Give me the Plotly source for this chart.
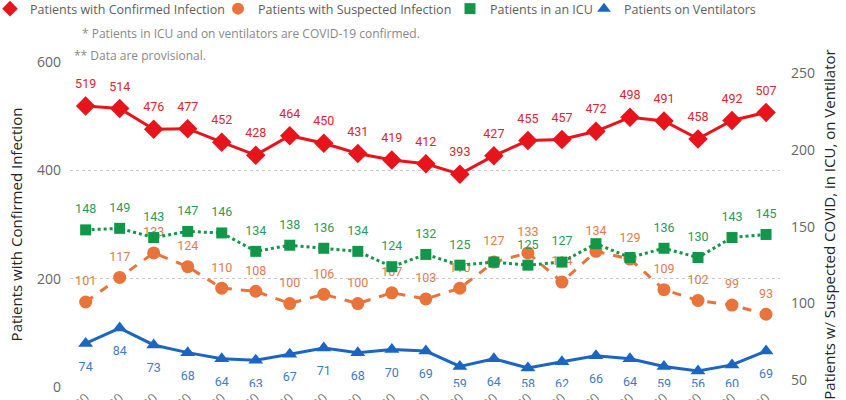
import plotly.graph_objects as go

dates = ["7/20/2020", "7/21/2020", "7/22/2020", "7/23/2020", "7/24/2020", "7/25/2020", "7/26/2020",
         "7/27/2020", "7/28/2020", "7/29/2020", "7/30/2020", "7/31/2020", "8/1/2020", "8/2/2020",
         "8/3/2020", "8/4/2020", "8/5/2020", "8/6/2020", "8/7/2020", "8/8/2020", "8/9/2020"]
confirmed = [519, 514, 476, 477, 452, 428, 464, 450, 431, 419, 412, 393, 427, 455, 457, 472, 498, 491, 458, 492, 507]
suspected = [101, 117, 133, 124, 110, 108, 100, 106, 100, 107, 103, 110, 127, 133, 114, 134, 129, 109, 102, 99, 93]
icu = [148, 149, 143, 147, 146, 134, 138, 136, 134, 124, 132, 125, 127, 125, 127, 139, 130, 136, 130, 143, 145]
ventilators = [74, 84, 73, 68, 64, 63, 67, 71, 68, 70, 69, 59, 64, 58, 62, 66, 64, 59, 56, 60, 69]
icu_hidden_labels = [12, 15, 16]

names = ["Patients with Confirmed Infection", "Patients with Suspected Infection",
         "Patients in an ICU", "Patients on Ventilators"]
left_title = "Patients with Confirmed Infection"
right_title = "Patients w/ Suspected COVID, in ICU, on Ventilator"
note1 = "* Patients in ICU and on ventilators are COVID-19 confirmed."
note2 = "** Data are provisional."

RED, RED_T = "#E8141C", "#D9262C"
ORANGE, ORANGE_T = "#E8743B", "#E27B4C"
GREEN, GREEN_T = "#12974A", "#2A9A5A"
BLUE, BLUE_T = "#1B66C2", "#3B7CC4"

FONT = "Open Sans, sans-serif"
LABEL_FONT = "Roboto, sans-serif"
LABEL_FS = 12.5

L, R, T, B = 70, 66, 62, 13
W, H = 846, 400
PW = W - L - R
PH = H - T - B
Y2_RANGE = [45.6, 257.4]

fig = go.Figure()

# legend-only entries (marker symbols only, like the original)
legend_specs = [
    (names[0], RED, "diamond", 12, 183),
    (names[1], ORANGE, "circle", 12, 187),
    (names[2], GREEN, "square", 11, 89),
    (names[3], BLUE, "triangle-up", 12, 134),
]
for nm, col, sym, sz, lw in legend_specs:
    fig.add_trace(go.Scatter(x=[None], y=[None], mode="markers", name=nm,
                             marker=dict(color=col, symbol=sym, size=sz),
                             legendwidth=lw, showlegend=True, hoverinfo="skip"))


def below_label_sizes(values, base_size, limit_px=384):
    # keep labels under the points inside the plot area (as the original does)
    sizes = []
    for v in values:
        py = T + (Y2_RANGE[1] - v) / (Y2_RANGE[1] - Y2_RANGE[0]) * PH
        max_off = limit_px - py
        max_size = 1.6 * (max_off - 1 - 0.39 * LABEL_FS)
        sizes.append(max(2, min(base_size, max_size)))
    return sizes


def add_series(values, yaxis, color, tcolor, dash, symbol, msize, pos, label_size, hidden=()):
    fig.add_trace(go.Scatter(
        x=dates, y=values, yaxis=yaxis, mode="lines+markers", showlegend=False,
        line=dict(color=color, width=3, dash=dash),
        marker=dict(color=color, symbol=symbol, size=msize),
        hoverinfo="skip"))
    labels = ["" if i in hidden else str(v) for i, v in enumerate(values)]
    fig.add_trace(go.Scatter(
        x=dates, y=values, yaxis=yaxis, mode="markers+text", showlegend=False,
        marker=dict(size=label_size, opacity=0),
        text=labels, textposition=pos,
        textfont=dict(family=LABEL_FONT, size=LABEL_FS, color=tcolor),
        hoverinfo="skip"))


add_series(confirmed, "y", RED, RED_T, "solid", "diamond", 15, "top center", 22)
add_series(suspected, "y2", ORANGE, ORANGE_T, "dash", "circle", 13, "top center", 20)
add_series(icu, "y2", GREEN, GREEN_T, "dot", "square", 11, "top center", 20, icu_hidden_labels)
add_series(ventilators, "y2", BLUE, BLUE_T, "solid", "triangle-up", 13, "bottom center",
           below_label_sizes(ventilators, 27))

fig.update_layout(
    width=W, height=H,
    margin=dict(l=L, r=R, t=T, b=B, autoexpand=False),
    paper_bgcolor="white", plot_bgcolor="white",
    font=dict(family=FONT, color="#666666"),
    showlegend=True,
    legend=dict(orientation="h", xref="paper", yref="paper",
                x=(-10 - L) / PW, y=(H - B + 6) / PH,
                xanchor="left", yanchor="top", font=dict(size=12.5, color="#605E5C"),
                itemwidth=30, bgcolor="rgba(0,0,0,0)", tracegroupgap=0,
                borderwidth=0),
    xaxis=dict(type="category", range=[-0.46, 20.41], showgrid=False, showline=False,
               zeroline=False, tickangle=-45, tickfont=dict(size=13, color="#777777"),
               automargin=False, fixedrange=True),
    yaxis=dict(range=[0, 600], dtick=200, showgrid=True, gridcolor="#C8C8C8", griddash="dot",
               gridwidth=1, zeroline=False, showline=False,
               tickfont=dict(size=14, color="#666666"), ticklabelstandoff=8,
               title=dict(text=left_title, font=dict(size=15, color="#252423"), standoff=10),
               automargin=False),
    yaxis2=dict(range=Y2_RANGE, dtick=50, overlaying="y", side="right", showgrid=False,
                zeroline=False, showline=False, tickfont=dict(size=14, color="#666666"),
                ticklabelstandoff=10,
                title=dict(text=right_title, font=dict(size=15, color="#252423"), standoff=10),
                automargin=False),
    annotations=[
        dict(text=note1, xref="paper", yref="paper", x=(80 - L) / PW, y=(H - B - 33) / PH,
             xanchor="left", yanchor="middle", showarrow=False,
             font=dict(family=FONT, size=12, color="#8A8886")),
        dict(text=note2, xref="paper", yref="paper", x=(72 - L) / PW, y=(H - B - 56) / PH,
             xanchor="left", yanchor="middle", showarrow=False,
             font=dict(family=FONT, size=12, color="#8A8886")),
    ],
)

fig.write_html("out.html", config={"displayModeBar": False},
               post_script="document.body.style.margin='0px';")
